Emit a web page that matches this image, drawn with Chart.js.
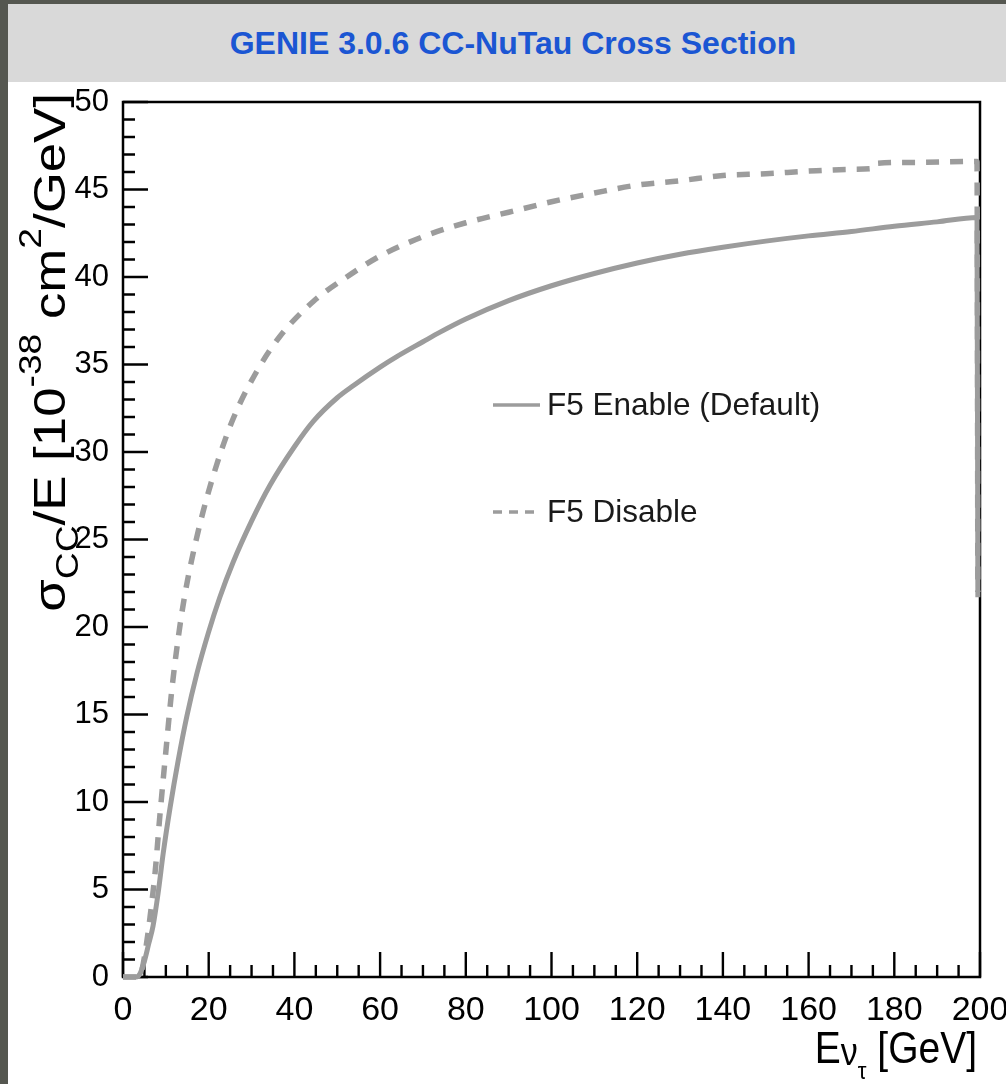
<!DOCTYPE html>
<html>
<head>
<meta charset="utf-8">
<script src="https://cdn.jsdelivr.net/npm/chart.js@4.4.1/dist/chart.umd.min.js"></script>
<style>
  html, body { margin: 0; padding: 0; }
  body { width: 1006px; height: 1084px; background: #555750; position: relative; overflow: hidden; }
  #panel { position: absolute; left: 8px; top: 4px; width: 998px; height: 1080px; background: #fff; }
  #title {
    height: 78px; background: #d9d9d9; color: #1b56d3;
    font: bold 32px/78px 'Liberation Sans', Arial, sans-serif;
    text-align: center; padding-left: 12px; box-sizing: border-box;
  }
  canvas { display: block; }
</style>
</head>
<body>
<div id="panel">
  <div id="title">GENIE 3.0.6 CC-NuTau Cross Section</div>
  <canvas id="xsec" width="998" height="1002"></canvas>
</div>
<script>
// F5 Enable (Default) - solid
const energyEnable = [0, 3, 4, 5.1, 6, 7, 8.2, 9.4, 11, 12.9, 14.9, 17.2, 19.9, 22.6, 25.7, 30, 34.3, 40, 44.4, 50,
    53.8, 60, 63.9, 70, 74, 80, 90, 100, 110, 120, 130, 140, 150, 160, 170, 180, 190, 199.3, 199.5];
const xsecEnable = [0, 0, 0.2, 1.0, 1.9, 2.9, 4.8, 7.1, 9.7, 12.4, 14.9, 17.3, 19.65, 21.7, 23.7, 26.05, 28.1, 30.3, 31.75, 33.1,
    33.8, 34.85, 35.45, 36.3, 36.85, 37.6, 38.65, 39.5, 40.2, 40.8, 41.3, 41.7, 42.05, 42.35, 42.6, 42.9, 43.15, 43.4, 21.7];

// F5 Disable - dashed
const energyDisable = [0, 3.5, 4.4, 5.3, 6.3, 7.5, 8.6, 10.2, 11.3, 12.9, 14.4, 16, 18.7, 21.9, 25.7, 31.2, 36.6, 44.4,
    52.2, 60, 70, 80, 90, 100, 110, 120, 130, 140, 150, 160, 170, 175, 176, 185, 199.3, 199.5];
const xsecDisable = [0, 0, 0.4, 1.6, 3.4, 6.0, 9.2, 13.4, 16.2, 19.4, 21.8, 23.8, 26.6, 29.3, 31.9, 34.6, 36.6, 38.6,
    40, 41.2, 42.3, 43.1, 43.7, 44.3, 44.8, 45.25, 45.5, 45.8, 45.9, 46.05, 46.15, 46.2, 46.5, 46.55, 46.6, 22];

const seriesLabels = ['F5 Enable (Default)', 'F5 Disable'];

const xTickValues = [0, 20, 40, 60, 80, 100, 120, 140, 160, 180, 200];
const xTickLabels = ['0', '20', '40', '60', '80', '100', '120', '140', '160', '180', '200'];
const yTickValues = [0, 5, 10, 15, 20, 25, 30, 35, 40, 45, 50];
const yTickLabels = ['0', '5', '10', '15', '20', '25', '30', '35', '40', '45', '50'];

const FONT = "'Liberation Sans', Arial, sans-serif";
const LINE_GRAY = '#9c9c9c';

function drawRich(ctx, parts, x, y, align) {
    let total = 0;
    parts.forEach(p => {
        ctx.font = p.size + 'px ' + FONT;
        p.w = ctx.measureText(p.text).width;
        total += p.w;
    });
    let cx = align === 'right' ? x - total : x;
    parts.forEach(p => {
        ctx.font = p.size + 'px ' + FONT;
        ctx.fillText(p.text, cx, y + p.dy);
        cx += p.w;
    });
}

// ROOT style frame with ticks drawn inside the pad
const rootFrame = {
    id: 'rootFrame',
    beforeDatasetsDraw(chart) {
        const ctx = chart.ctx;
        const a = chart.chartArea;
        const xs = chart.scales.x;
        const ys = chart.scales.y;
        ctx.save();
        ctx.strokeStyle = '#000';
        ctx.lineWidth = 2.5;
        ctx.strokeRect(a.left, a.top, a.right - a.left, a.bottom - a.top);
        ctx.lineWidth = 2.4;
        ctx.beginPath();
        for (let v = 0; v <= 200; v += 5) {
            const px = xs.getPixelForValue(v);
            const len = v % 20 === 0 ? 25 : 12;
            ctx.moveTo(px, a.bottom);
            ctx.lineTo(px, a.bottom - len);
        }
        for (let v = 0; v <= 50; v += 1) {
            const py = ys.getPixelForValue(v);
            const len = v % 5 === 0 ? 25 : 12;
            ctx.moveTo(a.left, py);
            ctx.lineTo(a.left + len, py);
        }
        ctx.stroke();
        ctx.restore();
    },
    afterDraw(chart) {
        const ctx = chart.ctx;
        ctx.save();
        ctx.fillStyle = '#000';
        ctx.textBaseline = 'alphabetic';

        // x title (slightly tall, like the ROOT output)
        ctx.save();
        ctx.translate(0, 981);
        ctx.scale(1, 1.12);
        drawRich(ctx, [
            { text: 'E', size: 39, dy: 0 },
            { text: 'ν', size: 34, dy: 2 },
            { text: 'τ', size: 22, dy: 14 },
            { text: ' [GeV]', size: 39, dy: 0 }
        ], 969, 0, 'right');
        ctx.restore();

        // y title, rotated and stretched along its length
        ctx.translate(57, 11);
        ctx.rotate(-Math.PI / 2);
        ctx.scale(1.2, 1);
        drawRich(ctx, [
            { text: 'σ', size: 44, dy: 0 },
            { text: 'CC', size: 31, dy: 13 },
            { text: '/E [10', size: 44, dy: 0 },
            { text: '-38', size: 31, dy: -24 },
            { text: ' cm', size: 44, dy: 0 },
            { text: '2', size: 31, dy: -24 },
            { text: '/GeV]', size: 44, dy: 0 }
        ], 0, 0, 'right');
        ctx.restore();

        // legend
        ctx.save();
        const ds = chart.data.datasets;
        const rows = [323, 430];
        ds.forEach((d, i) => {
            const y = rows[i];
            ctx.strokeStyle = d.borderColor;
            ctx.lineWidth = 3.5;
            ctx.setLineDash(d.borderDash && d.borderDash.length ? [9, 7] : []);
            ctx.beginPath();
            ctx.moveTo(485, y);
            ctx.lineTo(532, y);
            ctx.stroke();
            ctx.fillStyle = '#1a1a1a';
            ctx.font = '31.5px ' + FONT;
            ctx.textBaseline = 'middle';
            ctx.fillText(d.label, 539, y + 1);
        });
        ctx.restore();
    }
};

new Chart(document.getElementById('xsec'), {
    type: 'line',
    data: {
        datasets: [{
            label: seriesLabels[0],
            data: energyEnable.map((e, i) => ({ x: e, y: xsecEnable[i] })),
            borderColor: LINE_GRAY,
            borderWidth: 5,
            pointRadius: 0,
            cubicInterpolationMode: 'monotone',
            clip: false
        }, {
            label: seriesLabels[1],
            data: energyDisable.map((e, i) => ({ x: e, y: xsecDisable[i] })),
            borderColor: LINE_GRAY,
            borderWidth: 5.5,
            borderDash: [13, 11],
            pointRadius: 0,
            cubicInterpolationMode: 'monotone',
            clip: false
        }]
    },
    options: {
        responsive: false,
        animation: false,
        devicePixelRatio: 1,
        layout: { padding: { left: 0, top: 20, right: 26, bottom: 0 } },
        plugins: {
            legend: { display: false },
            tooltip: { enabled: false }
        },
        scales: {
            x: {
                type: 'linear',
                min: 0,
                max: 200,
                grid: { display: false },
                border: { display: false },
                ticks: {
                    color: '#000',
                    font: { family: FONT, size: 34 },
                    padding: 5,
                    maxRotation: 0,
                    autoSkip: false,
                    callback: (v, i) => xTickLabels[i]
                },
                afterBuildTicks: s => { s.ticks = xTickValues.map(v => ({ value: v })); },
                afterFit: s => { s.height = 107; s.paddingLeft = 0; s.paddingRight = 0; }
            },
            y: {
                type: 'linear',
                min: 0,
                max: 50,
                grid: { display: false },
                border: { display: false },
                ticks: {
                    color: '#000',
                    font: { family: FONT, size: 31 },
                    padding: 6,
                    autoSkip: false,
                    callback: (v, i) => yTickLabels[i]
                },
                afterBuildTicks: s => { s.ticks = yTickValues.map(v => ({ value: v })); },
                afterFit: s => { s.width = 115; s.paddingTop = 0; s.paddingBottom = 0; }
            }
        }
    },
    plugins: [rootFrame]
});
</script>
</body>
</html>
